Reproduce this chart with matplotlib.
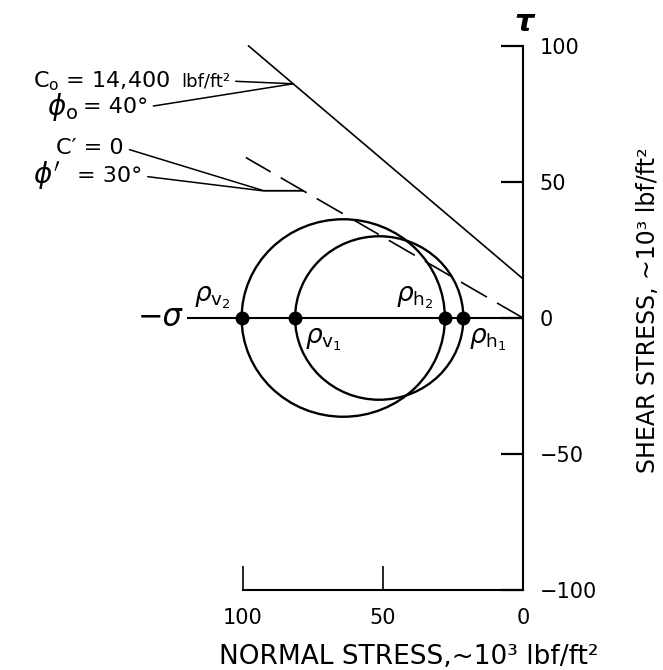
import matplotlib.pyplot as plt
from matplotlib.patches import Circle

# principal stresses, 10^3 lbf/ft^2
p_v = [81.4, 100.5]   # rho_v1, rho_v2
p_h = [21.3, 27.9]    # rho_h1, rho_h2
rho_labels = [r'$\rho_{\mathrm{v}_{1}}$', r'$\rho_{\mathrm{v}_{2}}$',
              r'$\rho_{\mathrm{h}_{1}}$', r'$\rho_{\mathrm{h}_{2}}$']

# failure envelopes (end points sigma, tau)
peak_sigma = [0, 98]
peak_tau = [14.4, 100]
resid_sigma = [0, 99]
resid_tau = [0, 59]

sigma_axis_end = 120
x_ticks = [100, 50, 0]
y_ticks = [100, 50, 0, -50, -100]

fig = plt.figure(figsize=(6.63, 6.70), dpi=100)
ax = fig.add_axes([0, 0, 1, 1])
ax.set_xlim(186.8, -50)
ax.set_ylim(-129.4, 116.9)

# axes: tau axis at sigma=0, normal stress axis at tau=-100
for s in ['left', 'top']:
    ax.spines[s].set_visible(False)
ax.spines['right'].set_position(('data', 0))
ax.spines['right'].set_bounds(-100, 100)
ax.spines['bottom'].set_position(('data', -100))
ax.spines['bottom'].set_bounds(0, 100)
for s in ['right', 'bottom']:
    ax.spines[s].set_linewidth(1.5)
ax.yaxis.tick_right()
ax.set_yticks(y_ticks)
ax.set_xticks(x_ticks)
ax.tick_params(axis='y', direction='in', length=16, width=1.6, pad=12, labelsize=15)
ax.tick_params(axis='x', direction='in', length=17, width=1.2, pad=13, labelsize=15)

# sigma axis
ax.hlines(0, 0, sigma_axis_end, color='k', lw=1.5)
ax.text(sigma_axis_end + 1.5, 0, '−σ', ha='right', va='center', fontsize=22, style='italic')
ax.text(-0.4, 108.8, 'τ', ha='center', va='center', fontsize=22, style='italic', weight='bold')

# Mohr circles
for v, h in zip(p_v, p_h):
    c = (v + h) / 2
    r = (v - h) / 2
    ax.add_patch(Circle((c, 0), r, fill=False, color='k', lw=1.7))
ax.plot(p_v + p_h, [0] * 4, 'o', color='k', ms=9)

ax.text(p_v[0] - 10, -8.1, rho_labels[0], ha='center', va='center', fontsize=19)
ax.text(p_v[1] + 10.5, 7.4, rho_labels[1], ha='center', va='center', fontsize=19)
ax.text(p_h[0] - 8.8, -8.1, rho_labels[2], ha='center', va='center', fontsize=19)
ax.text(p_h[1] + 10.7, 7.4, rho_labels[3], ha='center', va='center', fontsize=19)

# envelopes
ax.plot(peak_sigma, peak_tau, color='k', lw=1.2)
ax.plot(resid_sigma, resid_tau, color='k', lw=1.2, dashes=(18, 7))

# annotations with leader lines
lead = dict(arrowstyle='-', color='k', lw=1.1, relpos=(1, 0.5), shrinkA=2, shrinkB=0)
ax.text(126, 87.1, r'C$_\mathrm{o}$ = 14,400', ha='right', va='center', fontsize=16)
ax.annotate('lbf/ft²', xy=(82.1, 86.1), xytext=(104.6, 87.1), ha='right', va='center',
            fontsize=13, arrowprops=lead)
ax.text(159, 77.6, r'$\phi_\mathrm{o}$', ha='right', va='center', fontsize=20)
ax.annotate('= 40°', xy=(82.1, 86.1), xytext=(134, 77.6), ha='right', va='center',
            fontsize=16, arrowprops=lead)

ax.annotate('C′ = 0', xy=(78.6, 46.8), xytext=(142.5, 62.5), ha='right', va='center',
            fontsize=16, arrowprops=dict(lead, connectionstyle='angle,angleA=-17,angleB=0,rad=0'))
ax.text(165, 52.2, r"$\phi'$", ha='right', va='center', fontsize=20)
ax.annotate('= 30°', xy=(78.6, 46.8), xytext=(136, 52.2), ha='right', va='center',
            fontsize=16, arrowprops=dict(lead, connectionstyle='angle,angleA=-7,angleB=0,rad=0'))

ax.text(40.7, -124.6, 'NORMAL STRESS,~10³ lbf/ft²', ha='center', va='center', fontsize=19)
ax.text(-44.6, 2.9, 'SHEAR STRESS, ~10³ lbf/ft²', ha='center', va='center', fontsize=17,
        rotation=90)

fig.savefig('out.png', dpi=100)
